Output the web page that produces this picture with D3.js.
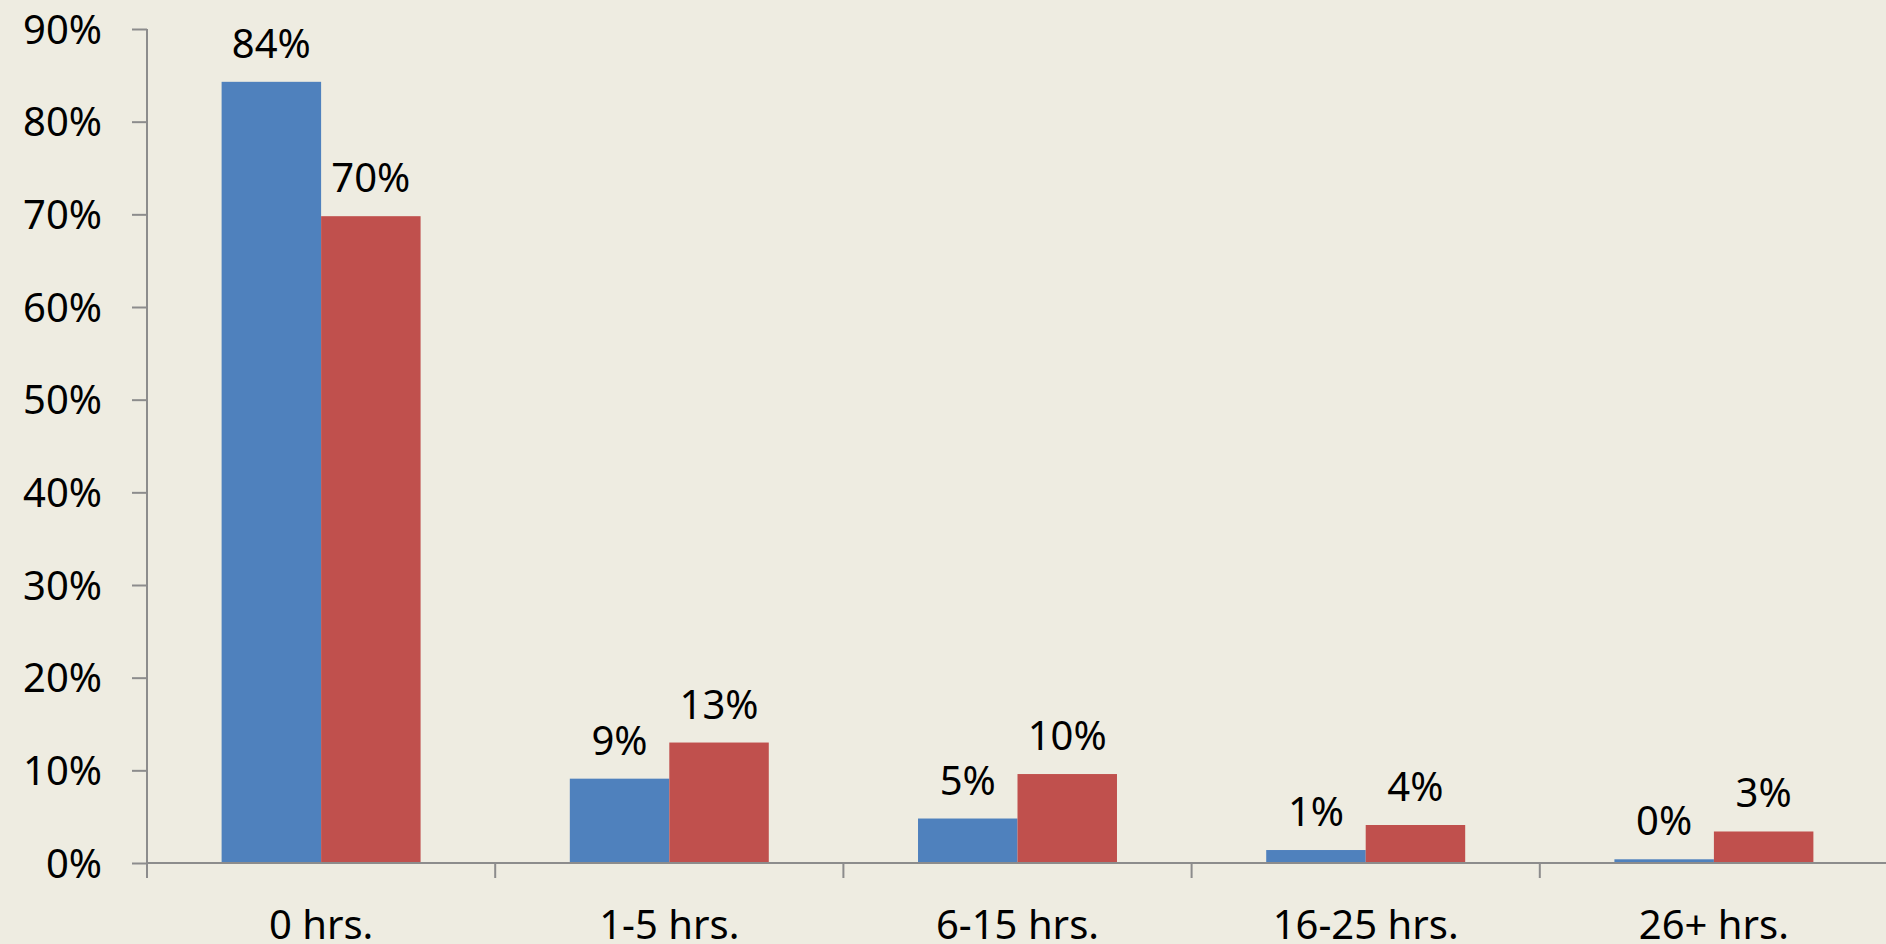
<!DOCTYPE html>
<html>
<head>
<meta charset="utf-8">
<script src="https://cdn.jsdelivr.net/npm/d3@7"></script>
<style>
  html, body { margin: 0; padding: 0; background: #EEECE1; }
  svg { display: block; }
  text { font-family: "Noto Sans", sans-serif; fill: #000; }
</style>
</head>
<body>
<svg id="chart"></svg>
<script>
// Data
const categories = ['0 hrs.', '1-5 hrs.', '6-15 hrs.', '16-25 hrs.', '26+ hrs.'];
const seriesNames = ['Series A', 'Series B'];
const seriesA = [84.3, 9.1, 4.8, 1.4, 0.4];
const seriesB = [69.8, 13.0, 9.6, 4.1, 3.4];
const labelsA = ['84%', '9%', '5%', '1%', '0%'];
const labelsB = ['70%', '13%', '10%', '4%', '3%'];
const yTicks = [0, 10, 20, 30, 40, 50, 60, 70, 80, 90];

const W = 1886, H = 944;
const margin = { top: 29, right: 0, bottom: 81, left: 147 };
const colors = ['#4F81BD', '#C0504D'];
const axisColor = '#8C8C8C';

const svg = d3.select('#chart').attr('width', W).attr('height', H);

const y = d3.scaleLinear().domain([0, 90]).range([H - margin.bottom, margin.top]);
const x0 = d3.scaleBand().domain(categories).range([margin.left, margin.left + 5 * 348.2]).padding(0);
// Excel style gap width 150%: two bars plus 1.5 bars of gap per category
const barW = x0.bandwidth() / 3.5;
const x1 = d3.scaleBand().domain(seriesNames)
  .range([x0.bandwidth() * 0.75 / 3.5, x0.bandwidth() * 2.75 / 3.5]);

const rows = categories.map((c, i) => ({
  cat: c,
  vals: [
    { s: seriesNames[0], v: seriesA[i], label: labelsA[i], color: colors[0] },
    { s: seriesNames[1], v: seriesB[i], label: labelsB[i], color: colors[1] }
  ]
}));

// Bars
const groups = svg.append('g').selectAll('g')
  .data(rows)
  .enter()
  .append('g')
  .attr('transform', d => `translate(${x0(d.cat)},0)`);

groups.selectAll('rect')
  .data(d => d.vals)
  .enter()
  .append('rect')
  .attr('x', d => x1(d.s))
  .attr('width', x1.bandwidth())
  .attr('y', d => y(d.v))
  .attr('height', d => y(0) - y(d.v))
  .style('fill', d => d.color);

// Data labels
groups.selectAll('text')
  .data(d => d.vals)
  .enter()
  .append('text')
  .attr('x', d => x1(d.s) + x1.bandwidth() / 2)
  .attr('y', d => y(d.v) - 24)
  .attr('text-anchor', 'middle')
  .style('font-size', '40px')
  .text(d => d.label);

// Y axis
const yAxis = svg.append('g')
  .attr('transform', `translate(${margin.left},0)`)
  .call(d3.axisLeft(y).tickValues(yTicks).tickSize(15).tickPadding(30).tickFormat(d => d + '%'));
yAxis.select('.domain').attr('d', `M0,${y(90)}V${y(0)}`);
yAxis.selectAll('path, line').attr('stroke', axisColor).attr('stroke-width', 2);
yAxis.selectAll('text').style('font-size', '40px').attr('dy', '0.35em').style('font-family', '"Noto Sans", sans-serif');

// X axis
const xAxis = svg.append('g')
  .attr('transform', `translate(0,${y(0)})`);
xAxis.append('line')
  .attr('x1', margin.left).attr('x2', W)
  .attr('stroke', axisColor).attr('stroke-width', 2);
const bounds = categories.map(c => x0(c));
xAxis.selectAll('.tick')
  .data(bounds)
  .enter()
  .append('line')
  .attr('x1', d => d).attr('x2', d => d)
  .attr('y1', 0).attr('y2', 15)
  .attr('stroke', axisColor).attr('stroke-width', 2);
xAxis.selectAll('.cat')
  .data(categories)
  .enter()
  .append('text')
  .attr('x', d => x0(d) + x0.bandwidth() / 2)
  .attr('y', 76)
  .attr('text-anchor', 'middle')
  .style('font-size', '40px')
  .text(d => d);
</script>
</body>
</html>
